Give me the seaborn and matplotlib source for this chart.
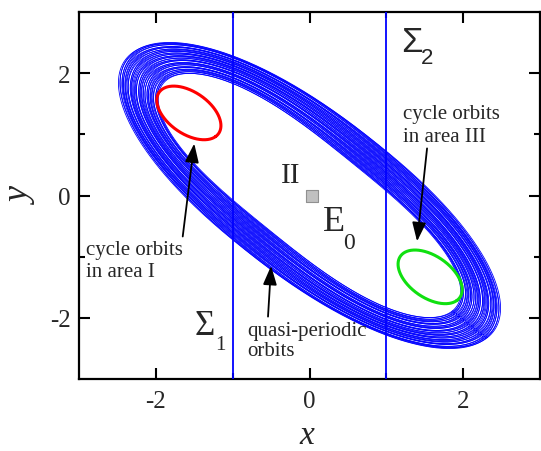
import numpy as np
import pandas as pd
import matplotlib
matplotlib.use("Agg")
import matplotlib.pyplot as plt
import seaborn as sns

# ---- data -------------------------------------------------------------
# Quasi-periodic band: half-widths of the innermost and outermost loops
band_long_axis = [2.65, 3.28]     # along the y = -x direction
band_short_axis = [0.77, 1.22]    # along the y = x direction
band_exponent = [2.9, 2.2]        # squareness of the loop ends (inner, outer)
band_angle_deg = -45.5
# position of every loop across the band (0 = inner edge, 1 = outer edge)
band_levels = [0.00, 0.02, 0.04, 0.06, 0.08, 0.10, 0.13, 0.15, 0.17, 0.19,
               0.21, 0.23, 0.26, 0.28, 0.30, 0.32, 0.34, 0.36, 0.39, 0.41,
               0.43, 0.45, 0.47, 0.49, 0.52, 0.54, 0.56, 0.58, 0.60, 0.62,
               0.65, 0.67, 0.69, 0.71, 0.73, 0.75, 0.78, 0.80, 0.82, 0.84,
               0.86, 0.88, 0.91, 0.93, 0.95, 0.97, 0.99, 1.00]
# slight tilt of each loop (degrees)
band_tilts = [0.0, 0.35, -0.25, 0.15, -0.4, 0.3, -0.1, 0.45, -0.3, 0.1]

# Cycle orbits in areas I and III
cycle_I_center = (-1.57, 1.35)
cycle_III_center = (1.57, -1.33)
cycle_axes = (0.52, 0.31)
cycle_angle_deg = -48.0

# Switching lines Sigma_1, Sigma_2 and equilibrium E0
sigma_x = [-1.0, 1.0]
e0_x, e0_y = [0.03], [0.0]

axis_lim = (-3, 3)
major_ticks = [-2, 0, 2]
minor_ticks = [-1, 1]


def loop_curve(a, b, angle_deg, p=2.0, cx=0.0, cy=0.0, n=600):
    """Closed loop |u/a|^p + |v/b|^2 = 1, rotated by angle_deg."""
    t = np.linspace(0, 2 * np.pi, n)
    u = a * np.sign(np.cos(t)) * np.abs(np.cos(t)) ** (2.0 / p)
    v = b * np.sin(t)
    th = np.deg2rad(angle_deg)
    x = cx + u * np.cos(th) - v * np.sin(th)
    y = cy + u * np.sin(th) + v * np.cos(th)
    return x, y


def lerp(pair, s):
    return pair[0] + s * (pair[1] - pair[0])


# ---- style --------------------------------------------------------------
sns.set_theme(style="ticks")
plt.rcParams["font.family"] = ["Liberation Serif", "DejaVu Serif"]
plt.rcParams["axes.unicode_minus"] = False

fig = plt.figure(figsize=(5.41, 4.52), dpi=100)
ax = fig.add_axes([79 / 541, 1 - 380 / 452, 461 / 541, 367 / 452])

# ---- quasi-periodic orbits ---------------------------------------------
frames = []
for i, lev in enumerate(band_levels):
    x, y = loop_curve(lerp(band_long_axis, lev), lerp(band_short_axis, lev),
                      band_angle_deg + band_tilts[i % len(band_tilts)],
                      p=lerp(band_exponent, lev))
    frames.append(pd.DataFrame({"x": x, "y": y, "loop": i}))
band = pd.concat(frames, ignore_index=True)
sns.lineplot(data=band, x="x", y="y", units="loop", estimator=None, sort=False,
             color="#0000ff", lw=0.6, ax=ax, legend=False)

# ---- switching lines -----------------------------------------------------
for sx in sigma_x:
    ax.axvline(sx, color="#0000ff", lw=1.3, zorder=3)

# ---- cycle orbits --------------------------------------------------------
for (cx, cy), col in [(cycle_I_center, "#ff0000"), (cycle_III_center, "#10e010")]:
    x, y = loop_curve(cycle_axes[0], cycle_axes[1], cycle_angle_deg, cx=cx, cy=cy)
    sns.lineplot(x=x, y=y, sort=False, estimator=None, color=col, lw=2.2,
                 ax=ax, zorder=4)

# ---- equilibrium ----------------------------------------------------------
sns.scatterplot(x=e0_x, y=e0_y, marker="s", s=75, color="#c0c0c0",
                edgecolor="#909090", linewidth=0.8, ax=ax, zorder=5)

# ---- labels ---------------------------------------------------------------
serif = ["Liberation Serif", "DejaVu Serif"]
sans = ["Liberation Sans", "DejaVu Sans"]

ax.text(-0.37, 0.33, "II", fontsize=21, family=serif, ha="left", va="center")
ax.text(0.17, -0.56, "E", fontsize=26, family=serif, ha="left", va="baseline")
ax.text(0.44, -0.86, "0", fontsize=17, family=serif, ha="left", va="baseline")

ax.text(1.19, 2.36, "Σ", fontsize=25, family=sans, ha="left", va="baseline")
ax.text(1.45, 2.16, "2", fontsize=16, family=sans, ha="left", va="baseline")
ax.text(-1.50, -2.26, "Σ", fontsize=25, family=serif, ha="left", va="baseline")
ax.text(-1.23, -2.51, "1", fontsize=15, family=serif, ha="left", va="baseline")

ax.text(-2.915, -0.72, "cycle orbits\nin area I", fontsize=15, family=serif,
        ha="left", va="top", linespacing=1.25)
ax.text(1.22, 1.50, "cycle orbits\nin area III", fontsize=15, family=serif,
        ha="left", va="top", linespacing=1.32)
ax.text(-0.81, -2.05, "quasi-periodic\norbits", fontsize=15, family=serif,
        ha="left", va="top", linespacing=1.1)

arrow = dict(arrowstyle="-|>,head_length=1.15,head_width=0.42",
             color="black", lw=1.3, shrinkA=0, shrinkB=0, mutation_scale=10)
ax.annotate("", xy=(-1.50, 0.85), xytext=(-1.65, -0.67), arrowprops=arrow, zorder=6)
ax.annotate("", xy=(-0.50, -1.15), xytext=(-0.54, -1.98), arrowprops=arrow, zorder=6)
ax.annotate("", xy=(1.40, -0.75), xytext=(1.53, 0.77), arrowprops=arrow, zorder=6)

# ---- axes -------------------------------------------------------------------
ax.set_xlim(*axis_lim)
ax.set_ylim(*axis_lim)
ax.set_xticks(major_ticks)
ax.set_yticks(major_ticks)
ax.set_xticks(minor_ticks, minor=True)
ax.set_yticks(minor_ticks, minor=True)
ax.set_xlabel("")
ax.set_ylabel("")
ax.tick_params(which="both", direction="in", top=True, right=True,
               width=1.5, color="black", labelsize=18)
ax.tick_params(which="major", length=8, pad=8)
ax.tick_params(which="minor", length=4)
ax.tick_params(axis="y", which="major", pad=6)
for sp in ax.spines.values():
    sp.set_visible(True)
    sp.set_color("black")
    sp.set_linewidth(1.6)

fig.text(307 / 541, 1 - 436 / 452, "x", fontsize=24, style="italic",
         family=serif, ha="center", va="center")
fig.text(22 / 541, 1 - 197 / 452, "y", fontsize=26, style="italic",
         family=serif, ha="center", va="center", rotation=90)

fig.savefig("out.png", dpi=100)
